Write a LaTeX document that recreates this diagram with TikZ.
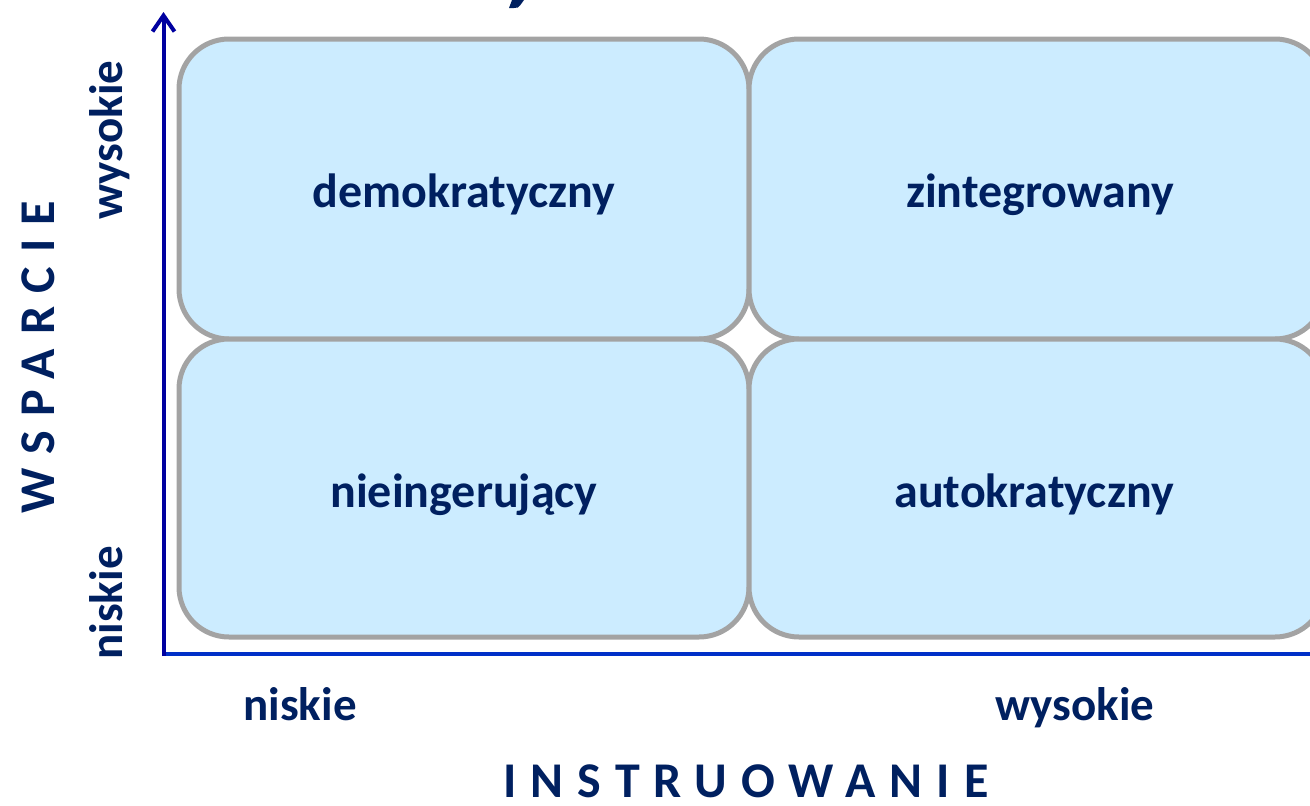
\documentclass[tikz,border=0pt]{standalone}
\usepackage{fontspec}
\setmainfont{Carlito}
\usetikzlibrary{arrows.meta}
\definecolor{navy}{RGB}{0,32,96}
\definecolor{axisdark}{RGB}{0,0,160}
\definecolor{axisbright}{RGB}{0,48,200}
\definecolor{cellfill}{RGB}{204,236,255}
\definecolor{cellline}{RGB}{163,163,163}
\begin{document}
\begin{tikzpicture}[x=1pt,y=-1pt,
  cell/.style={draw=cellline, fill=cellfill, line width=5pt,
    rounded corners=50pt, inner sep=0pt, outer sep=0pt},
  celltext/.style={text=navy, anchor=base, inner sep=0pt,
    font=\fontsize{48}{56}\selectfont\bfseries},
  lbl/.style={text=navy, anchor=base, inner sep=0pt,
    font=\fontsize{47}{56}\selectfont\bfseries},
  axislbl/.style={text=navy, anchor=base, inner sep=0pt,
    font=\fontsize{50}{58}\selectfont\bfseries\addfontfeature{LetterSpace=28}},
]
\useasboundingbox (0,0) rectangle (1310,806);
\clip (0,0) rectangle (1310,806);

% fragment of the heading above the picture
\fill[navy] (512,0) -- (524,0) -- (520,5.5) .. controls (519,7.5) and (517,8) .. (514,8) -- (509,8) -- cycle;

% the four quadrants
\node[cell, minimum width=570, minimum height=300] (demo) at (464,189) {};
\node[cell, minimum width=576, minimum height=300] (integ) at (1037,189) {};
\node[cell, minimum width=570, minimum height=298] (laissez) at (464,488) {};
\node[cell, minimum width=576, minimum height=298] (auto) at (1037,488) {};

\node[celltext] (tdemo) at (464,207) {demokratyczny};
\node[celltext] (tinteg) at (1040,207) {zintegrowany};
\node[celltext] (tlaissez) at (464,507) {nieingerujący};
\node[celltext] (tauto) at (1034,507) {autokratyczny};

% axes
\coordinate (origin) at (163.5,654);
\coordinate (xend) at (1330,654);
\coordinate (ytip) at (163.5,12);
\coordinate (ybase) at (163.5,656);
\draw[axisbright, line width=4pt] (origin) -- (xend);
\draw[axisdark, line width=4pt, -{Straight Barb[length=16pt,width=22pt]}] (ybase) -- (ytip);

% axis labels
\node[lbl, rotate=90] (yhigh) at (122,140) {wysokie};
\node[lbl, rotate=90] (ylow) at (122,603) {niskie};
\node[axislbl, rotate=90] (ytitle) at (54,357) {WSPARCIE};
\node[lbl] (xlow) at (300,720) {niskie};
\node[lbl] (xhigh) at (1075,720) {wysokie};
\node[axislbl] (xtitle) at (746,797) {INSTRUOWANIE};
\end{tikzpicture}
\end{document}
